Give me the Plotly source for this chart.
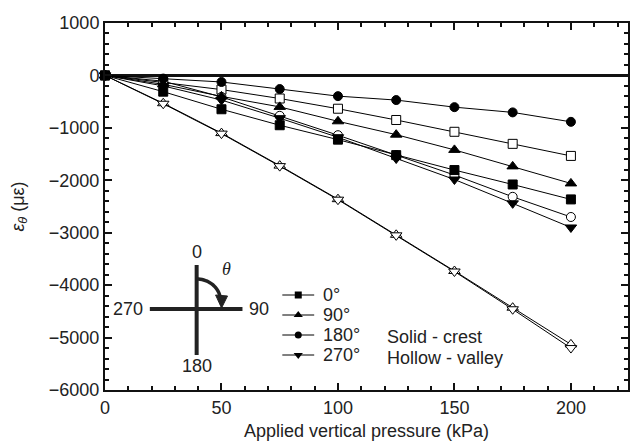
import numpy as np
import plotly.graph_objects as go

# ---------------- data ----------------
pressure = [0, 25, 50, 75, 100, 125, 150, 175, 200]

crest_0 = [0, -310, -645, -950, -1225, -1520, -1805, -2080, -2365]
crest_90 = [0, -170, -400, -600, -875, -1130, -1420, -1735, -2060]
crest_180 = [0, -60, -125, -260, -395, -470, -605, -705, -885]
crest_270 = [0, -200, -470, -815, -1180, -1585, -1985, -2440, -2900]

valley_0 = [0, -130, -270, -440, -635, -850, -1075, -1305, -1535]
valley_90 = [0, -530, -1100, -1720, -2360, -3040, -3730, -4430, -5130]
valley_180 = [0, -110, -410, -770, -1140, -1520, -1900, -2315, -2700]
valley_270 = [0, -540, -1110, -1730, -2370, -3050, -3740, -4460, -5200]

angle_labels = ["0°", "90°", "180°", "270°"]
symbols = ["square", "triangle-up", "circle", "triangle-down"]

xtick_vals = [0, 50, 100, 150, 200]
ytick_vals = [1000, 0, -1000, -2000, -3000, -4000, -5000, -6000]

# ---------------- layout constants ----------------
W, H = 630, 441
ML, MR, MT, MB = 105, 0, 23, 51
XR = [0, 224.5]
YR = [-6000, 1000]
FONT = "Liberation Sans, Arial, Helvetica, sans-serif"
FS = 18


def px_x(px):
    return XR[0] + (px - ML) / (W - ML - MR) * (XR[1] - XR[0])


def px_y(py):
    return YR[1] - (py - MT) / (H - MT - MB) * (YR[1] - YR[0])


fig = go.Figure()

crest = [crest_0, crest_90, crest_180, crest_270]
valley = [valley_0, valley_90, valley_180, valley_270]

# hollow (valley) series first, then solid (crest)
for vals, sym in zip(valley, symbols):
    fig.add_trace(go.Scatter(
        x=pressure, y=vals, mode="lines+markers",
        line=dict(color="black", width=1),
        marker=dict(symbol=sym, size=10 if "triangle" in sym else 9,
                    color="white", line=dict(color="black", width=1)),
        showlegend=False, cliponaxis=False))
for vals, sym in zip(crest, symbols):
    fig.add_trace(go.Scatter(
        x=pressure, y=vals, mode="lines+markers",
        line=dict(color="black", width=1),
        marker=dict(symbol=sym, size=10 if "triangle" in sym else 9,
                    color="black", line=dict(color="black", width=1)),
        showlegend=False, cliponaxis=False))

shapes = []
annotations = []

# ---------------- manual legend ----------------
leg_x0, leg_xm, leg_x1, leg_tx = 283, 299, 315, 322
leg_y0, leg_dy = 295, 20
for i, (lab, sym) in enumerate(zip(angle_labels, symbols)):
    yy = leg_y0 + i * leg_dy
    shapes.append(dict(type="line", xref="x", yref="y",
                       x0=px_x(leg_x0), x1=px_x(leg_x1), y0=px_y(yy), y1=px_y(yy),
                       line=dict(color="black", width=1)))
    fig.add_trace(go.Scatter(
        x=[px_x(leg_xm)], y=[px_y(yy)], mode="markers",
        marker=dict(symbol=sym, size=8 if "triangle" in sym else 7, color="black"),
        showlegend=False, hoverinfo="skip", cliponaxis=False))
    annotations.append(dict(x=px_x(leg_tx), y=px_y(yy), xref="x", yref="y",
                            text=lab, showarrow=False, xanchor="left", yanchor="middle",
                            font=dict(family=FONT, size=FS, color="#222")))

annotations.append(dict(x=px_x(386), y=px_y(337), xref="x", yref="y",
                        text="Solid - crest", showarrow=False, xanchor="left",
                        yanchor="middle", font=dict(family=FONT, size=FS, color="#222")))
annotations.append(dict(x=px_x(386), y=px_y(358), xref="x", yref="y",
                        text="Hollow - valley", showarrow=False, xanchor="left",
                        yanchor="middle", font=dict(family=FONT, size=FS, color="#222")))

# ---------------- angle diagram ----------------
cx, cy = 197, 309
shapes.append(dict(type="line", xref="x", yref="y",
                   x0=px_x(cx), x1=px_x(cx), y0=px_y(265), y1=px_y(355),
                   line=dict(color="#222", width=4)))
shapes.append(dict(type="line", xref="x", yref="y",
                   x0=px_x(150), x1=px_x(243), y0=px_y(cy), y1=px_y(cy),
                   line=dict(color="#222", width=4)))
# arc (quarter ellipse)
t = np.linspace(np.pi / 2, np.deg2rad(8), 20)
arc_cx, arc_cy, rx, ry = 197, 301, 24, 22
pts = [(px_x(arc_cx + rx * np.cos(a)), px_y(arc_cy - ry * np.sin(a))) for a in t]
path = "M " + " L ".join(f"{a},{b}" for a, b in pts)
shapes.append(dict(type="path", xref="x", yref="y", path=path,
                   line=dict(color="#222", width=3.5)))
# arrow head
head = [(216, 295), (228, 296), (222, 308)]
hp = "M " + " L ".join(f"{px_x(a)},{px_y(b)}" for a, b in head) + " Z"
shapes.append(dict(type="path", xref="x", yref="y", path=hp,
                   fillcolor="#222", line=dict(color="#222", width=1)))

for txt, x, y in [("0", 197, 252), ("270", 128, 309), ("90", 260, 309), ("180", 197, 366)]:
    annotations.append(dict(x=px_x(x), y=px_y(y), xref="x", yref="y", text=txt,
                            showarrow=False, xanchor="center", yanchor="middle",
                            font=dict(family=FONT, size=FS, color="#222")))
annotations.append(dict(x=px_x(227), y=px_y(269), xref="x", yref="y", text="<i>θ</i>",
                        showarrow=False, xanchor="center", yanchor="middle",
                        font=dict(family="Liberation Serif, Times New Roman, serif",
                                  size=FS, color="#222")))

axis_common = dict(
    showgrid=False, showline=True, linecolor="#111", linewidth=2,
    mirror="ticks", ticks="inside", tickcolor="#111", tickwidth=1.5, ticklen=7,
    tickfont=dict(family=FONT, size=FS, color="#222"),
)

fig.update_layout(
    width=W, height=H,
    margin=dict(l=ML, r=MR, t=MT, b=MB),
    paper_bgcolor="white", plot_bgcolor="white",
    showlegend=False,
    shapes=shapes, annotations=annotations,
    xaxis=dict(range=XR, tickvals=xtick_vals, zeroline=False,
               minor=dict(dtick=10, tick0=0, ticks="inside", ticklen=4,
                          tickcolor="#111", tickwidth=1.5),
               title=dict(text="Applied vertical pressure (kPa)", standoff=8,
                          font=dict(family=FONT, size=FS, color="#222")),
               **axis_common),
    yaxis=dict(range=YR, tickvals=ytick_vals, zeroline=True, zerolinecolor="#111",
               zerolinewidth=2.5,
               minor=dict(dtick=200, tick0=0, ticks="inside", ticklen=4,
                          tickcolor="#111", tickwidth=1.5),
               title=dict(text="<i>ε<sub>θ</sub></i> (με)",
                          standoff=20, font=dict(family=FONT, size=FS, color="#222")),
               **axis_common),
)

fig.write_html("out.html")
